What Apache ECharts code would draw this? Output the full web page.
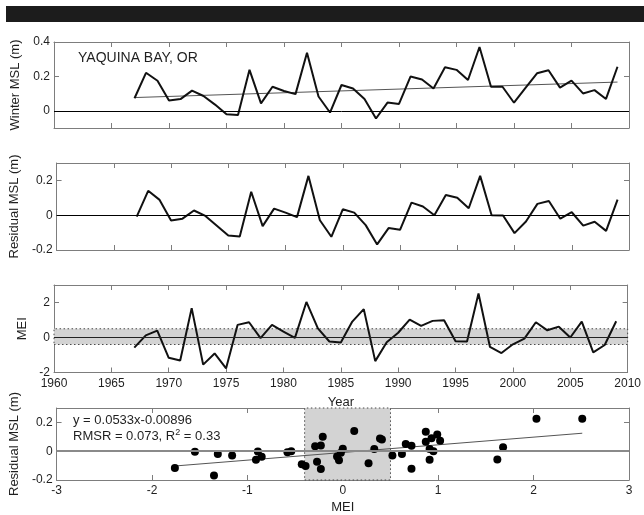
<!DOCTYPE html>
<html>
<head>
<meta charset="utf-8">
<script src="https://cdn.jsdelivr.net/npm/echarts@6/dist/echarts.min.js"></script>
<style>
html,body{margin:0;padding:0;background:#fff;}
#c{width:644px;height:515px;}
</style>
</head>
<body>
<div id="c"></div>
<script>
// ---- data ----
const years = [1967,1968,1969,1970,1971,1972,1973,1974,1975,1976,1977,1978,1979,1980,1981,1982,1983,1984,1985,1986,1987,1988,1989,1990,1991,1992,1993,1994,1995,1996,1997,1998,1999,2000,2001,2002,2003,2004,2005,2006,2007,2008,2009];
const winterMSL = [0.073,0.221,0.175,0.06,0.068,0.117,0.086,0.036,-0.02,-0.024,0.238,0.043,0.14,0.115,0.097,0.337,0.083,-0.01,0.15,0.13,0.068,-0.045,0.048,0.04,0.199,0.182,0.13,0.253,0.238,0.179,0.371,0.14,0.14,0.047,0.133,0.218,0.236,0.135,0.175,0.101,0.12,0.069,0.256];
const residualMSL = [-0.008,0.14,0.088,-0.03,-0.02,0.027,-0.004,-0.06,-0.117,-0.122,0.135,-0.063,0.038,0.015,-0.011,0.226,-0.029,-0.124,0.034,0.015,-0.057,-0.168,-0.074,-0.084,0.072,0.05,0.0,0.116,0.1,0.04,0.226,0.0,-0.002,-0.103,-0.036,0.065,0.082,-0.02,0.017,-0.06,-0.038,-0.09,0.09];
const mei = [-0.58,0.12,0.39,-1.16,-1.31,1.68,-1.55,-0.91,-1.76,0.72,0.87,-0.04,0.72,0.33,-0.02,2.03,0.52,-0.23,-0.29,0.91,1.62,-1.35,-0.27,0.27,1.02,0.66,0.95,0.99,-0.21,-0.23,2.51,-0.54,-0.89,-0.39,-0.06,0.87,0.41,0.62,0.0,0.91,-0.85,-0.43,0.93];
const msltrendYears = [1967, 2009];
const msltrendValues = [0.077, 0.167];
const ensoBand = [-0.4, 0.5];
const fitSlope = 0.0533;
const fitIntercept = -0.00896;
const yearTicks = [1960,1965,1970,1975,1980,1985,1990,1995,2000,2005,2010];
const p1Ticks = [0, 0.2, 0.4];
const p2Ticks = [-0.2, 0, 0.2];
const p3Ticks = [-2, 0, 2];
const p4Ticks = [-0.2, 0, 0.2];
const meiTicks = [-3,-2,-1,0,1,2,3];
const titleText = 'YAQUINA BAY, OR';
const eqText = 'y = 0.0533x-0.00896';

// ---- styling ----
const FONT = 'Liberation Sans, Arial, Helvetica, sans-serif';
const FRAME = '#7d7d7d';
const TXT = '#1f1f1f';
const fmt = v => String(v);

const grids = [
  {left: 54, right: 15, top: 42, height: 86},
  {left: 54, right: 15, top: 163, height: 87},
  {left: 54, right: 15, top: 285, height: 87.5},
  {left: 54, right: 15, top: 408, height: 72}
];

function xAx(gi, pos, min, max, interval, ticks, showLabels, name, nameGap) {
  return {
    type: 'value', gridIndex: gi, position: pos, min: min, max: max, interval: interval,
    axisLine: {show: true, onZero: false, lineStyle: {color: FRAME, width: 1}},
    axisTick: {show: true, inside: true, length: 5, customValues: ticks, lineStyle: {color: FRAME}},
    axisLabel: {show: showLabels, customValues: ticks, formatter: fmt, color: TXT, fontSize: 12, fontFamily: FONT, margin: 5},
    splitLine: {show: false},
    name: name || '', nameLocation: 'middle', nameGap: nameGap || 0,
    nameTextStyle: {color: TXT, fontSize: 13, fontFamily: FONT}
  };
}
function yAx(gi, pos, min, max, ticks, showLabels, name, nameGap) {
  return {
    type: 'value', gridIndex: gi, position: pos, min: min, max: max,
    axisLine: {show: true, onZero: false, lineStyle: {color: FRAME, width: 1}},
    axisTick: {show: true, inside: true, length: 5, customValues: ticks, lineStyle: {color: FRAME}},
    axisLabel: {show: showLabels, customValues: ticks, formatter: fmt, color: TXT, fontSize: 12, fontFamily: FONT, margin: 4},
    splitLine: {show: false},
    name: name || '', nameLocation: 'middle', nameGap: nameGap || 0,
    nameTextStyle: {color: TXT, fontSize: 13, fontFamily: FONT}
  };
}

const xAxes = [
  xAx(0,'bottom',1960,2010,5,yearTicks,false), xAx(0,'top',1960,2010,5,yearTicks,false),
  xAx(1,'bottom',1960,2010,5,yearTicks,false), xAx(1,'top',1960,2010,5,yearTicks,false),
  xAx(2,'bottom',1960,2010,5,yearTicks,true,'Year',23), xAx(2,'top',1960,2010,5,yearTicks,false),
  xAx(3,'bottom',-3,3,1,meiTicks,true,'MEI',21), xAx(3,'top',-3,3,1,meiTicks,false)
];
const yAxes = [
  yAx(0,'left',-0.1,0.4,p1Ticks,true,'Winter MSL (m)',29), yAx(0,'right',-0.1,0.4,p1Ticks,false),
  yAx(1,'left',-0.2,0.3,p2Ticks,true,'Residual MSL (m)',31), yAx(1,'right',-0.2,0.3,p2Ticks,false),
  yAx(2,'left',-2,3,p3Ticks,true,'MEI',22), yAx(2,'right',-2,3,p3Ticks,false),
  yAx(3,'left',-0.2,0.3,p4Ticks,true,'Residual MSL (m)',31), yAx(3,'right',-0.2,0.3,p4Ticks,false)
];

function zeroLine(color, width) {
  return {silent: true, symbol: ['none','none'], label: {show: false},
    lineStyle: {color: color, width: width, type: 'solid'}, data: [{yAxis: 0}]};
}
const bandStyle = {color: '#d3d3d3', borderColor: '#4a4a4a', borderWidth: 1, borderType: [1.5, 2.5]};

const lineOf = (vals) => years.map((y, i) => [y, vals[i]]);
const scatterPts = mei.map((m, i) => [m, residualMSL[i]]);
const meiMin = Math.min.apply(null, mei), meiMax = Math.max.apply(null, mei);
const fitPts = [meiMin, meiMax].map(x => [x, fitSlope * x + fitIntercept]);

const series = [
  // panel 1
  {type: 'line', xAxisIndex: 0, yAxisIndex: 0, data: [], z: 1, markLine: zeroLine('#000', 1)},
  {type: 'line', xAxisIndex: 0, yAxisIndex: 0, data: msltrendYears.map((y,i)=>[y, msltrendValues[i]]), showSymbol: false, z: 2,
   lineStyle: {color: '#555', width: 1}},
  {type: 'line', xAxisIndex: 0, yAxisIndex: 0, data: lineOf(winterMSL), showSymbol: false, z: 3,
   lineStyle: {color: '#111', width: 2}},
  // panel 2
  {type: 'line', xAxisIndex: 2, yAxisIndex: 2, data: [], z: 1, markLine: zeroLine('#000', 1)},
  {type: 'line', xAxisIndex: 2, yAxisIndex: 2, data: lineOf(residualMSL), showSymbol: false, z: 3,
   lineStyle: {color: '#111', width: 2}},
  // panel 3
  {type: 'line', xAxisIndex: 4, yAxisIndex: 4, data: [], z: 1,
   markArea: {silent: true, itemStyle: bandStyle, data: [[{yAxis: ensoBand[0]}, {yAxis: ensoBand[1]}]]}},
  {type: 'line', xAxisIndex: 4, yAxisIndex: 4, data: [], z: 2, markLine: zeroLine('#222', 1)},
  {type: 'line', xAxisIndex: 4, yAxisIndex: 4, data: lineOf(mei), showSymbol: false, z: 3,
   lineStyle: {color: '#111', width: 2}},
  // panel 4
  {type: 'line', xAxisIndex: 6, yAxisIndex: 6, data: [], z: 1,
   markArea: {silent: true, itemStyle: bandStyle, data: [[{xAxis: ensoBand[0]}, {xAxis: ensoBand[1]}]]}},
  {type: 'line', xAxisIndex: 6, yAxisIndex: 6, data: [], z: 2, markLine: zeroLine('#8a8a8a', 2)},
  {type: 'line', xAxisIndex: 6, yAxisIndex: 6, data: fitPts, showSymbol: false, z: 3,
   lineStyle: {color: '#555', width: 1}},
  {type: 'scatter', xAxisIndex: 6, yAxisIndex: 6, data: scatterPts, symbol: 'circle', symbolSize: 8, z: 4,
   itemStyle: {color: '#000', opacity: 1}}
];

const chart = echarts.init(document.getElementById('c'), null, {renderer: 'canvas'});
chart.setOption({
  animation: false,
  backgroundColor: '#fff',
  grid: grids,
  xAxis: xAxes,
  yAxis: yAxes,
  series: series,
  graphic: [
    {type: 'rect', left: 6, top: 6, shape: {width: 638, height: 16}, style: {fill: '#1c1c1c'}, silent: true},
    {type: 'text', left: 78, top: 51, style: {text: titleText, fill: TXT, font: '14px ' + FONT}},
    {type: 'text', left: 73, top: 414, style: {text: eqText, fill: TXT, font: '13px ' + FONT}},
    {type: 'text', left: 73, top: 428, style: {
      text: 'RMSR = 0.073, R{sup|2} = 0.33', fill: TXT, font: '13px ' + FONT,
      rich: {sup: {fontSize: 9, fontFamily: FONT, fill: TXT, verticalAlign: 'top', padding: [0, 0, 7, 0]}}
    }}
  ]
});
</script>
</body>
</html>
